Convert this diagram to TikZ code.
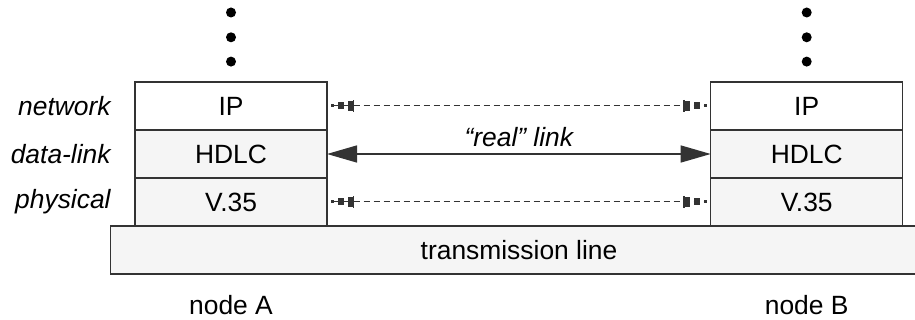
\documentclass[tikz,border=0pt]{standalone}
\usepackage{fontspec}
\setmainfont{Liberation Sans}
\usetikzlibrary{arrows.meta, positioning}
\definecolor{LinkInk}{HTML}{333333}
\definecolor{LayerFill}{HTML}{F5F5F5}

\begin{document}
\begin{tikzpicture}[
  x=0.5pt, y=-0.5pt,
  font=\fontsize{13.2}{15}\selectfont,
  node distance=0pt,
  layer/.style={rectangle, draw=LinkInk, line width=0.75pt, fill=LayerFill,
                minimum width=96pt, minimum height=24pt, inner sep=0pt, outer sep=0pt},
  toplayer/.style={layer, fill=white},
  lbl/.style={inner sep=0pt, font=\fontsize{13.2}{15}\selectfont\itshape},
  dot/.style={circle, fill=black, inner sep=0pt, minimum size=5pt},
  link/.style={{Triangle[length=15pt,width=8.5pt]}-{Triangle[length=15pt,width=8.5pt]},
               draw=LinkInk, line width=0.7pt},
  peer/.style={{Rectangle[length=1.5pt,width=1.5pt,sep=2pt]
                Rectangle[length=3pt,width=3.5pt,sep=2pt]
                Rectangle[length=2.5pt,width=5pt,sep=2pt]
                Bar[width=6pt,line width=0.7pt]}-{Bar[width=6pt,line width=0.7pt]
                Rectangle[length=2.5pt,width=5pt,sep=2pt]
                Rectangle[length=3pt,width=3.5pt,sep=2pt]
                Rectangle[length=1.5pt,width=1.5pt,sep=2pt]},
               draw=LinkInk, line width=0.5pt, dash pattern=on 3pt off 2pt},
]
\useasboundingbox (0,0) rectangle (915,320);

% --- protocol stack of node A ---
\node[toplayer] (ipA) at (231,106) {IP};
\node[layer, below=of ipA] (hdlcA) {HDLC};
\node[layer, below=of hdlcA] (physA) {V.35};

% --- protocol stack of node B ---
\node[toplayer] (ipB) at (806.7,106) {IP};
\node[layer, below=of ipB] (hdlcB) {HDLC};
\node[layer, below=of hdlcB] (physB) {V.35};

% --- shared medium ---
\node[layer, minimum width=408.5pt] (line) at (519,250) {transmission line};

% --- layer names ---
\node[lbl, left=12pt of ipA] (netname) {network};
\node[lbl, left=12pt of hdlcA] (dlname) {data-link};
\node[lbl, left=12pt of physA] (physname) {physical};

% --- upper layers left out ---
\node[dot, above=7.5pt of ipA] (dotA1) {};
\node[dot, above=6.75pt of dotA1] (dotA2) {};
\node[dot, above=7pt of dotA2] (dotA3) {};
\node[dot, above=7.5pt of ipB] (dotB1) {};
\node[dot, above=6.75pt of dotB1] (dotB2) {};
\node[dot, above=7pt of dotB2] (dotB3) {};

% --- node names ---
\node (nameA) at (231,305) {node A};
\node (nameB) at (806.7,305) {node B};

% --- links ---
\draw[peer] (ipA) -- (ipB);
\draw[link] (hdlcA) -- node[above, font=\fontsize{13.2}{15}\selectfont\itshape] (reallbl) {“real” link} (hdlcB);
\draw[peer] (physA) -- (physB);

\end{tikzpicture}
\end{document}
